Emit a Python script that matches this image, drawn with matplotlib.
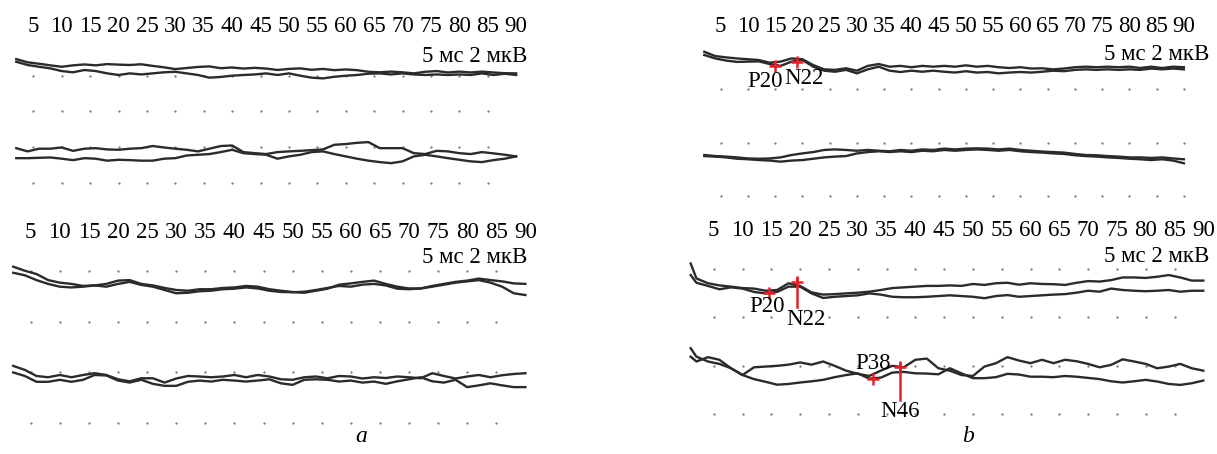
import numpy as np
import matplotlib
matplotlib.use("Agg")
import matplotlib.pyplot as plt

plt.rcParams['font.family'] = ['Liberation Serif', 'DejaVu Serif']

W, H = 1217, 454

# time, ms
t = np.arange(2, 91, 2)
t_b2 = np.r_[1, t]
tick_ms = list(range(5, 91, 5))
scale_label = "5 мс 2 мкВ"

# amplitudes in uV, each channel around its own baseline row
# panel a, upper recording
a1_ch1_1 = [0.93, 0.75, 0.67, 0.58, 0.50, 0.58, 0.63, 0.58, 0.65, 0.62,
            0.60, 0.64, 0.55, 0.47, 0.37, 0.43, 0.49, 0.52, 0.42, 0.46,
            0.40, 0.44, 0.40, 0.32, 0.38, 0.41, 0.33, 0.38, 0.31, 0.35,
            0.31, 0.22, 0.19, 0.23, 0.19, 0.13, 0.22, 0.26, 0.18, 0.23,
            0.18, 0.23, 0.18, 0.14, 0.13]
a1_ch1_2 = [0.78, 0.60, 0.50, 0.41, 0.26, 0.19, 0.32, 0.26, 0.13, 0.04,
            0.13, 0.07, 0.13, 0.19, 0.22, 0.13, 0.04, -0.11, -0.07, 0.00,
            0.04, 0.07, 0.13, 0.04, 0.13, 0.00, -0.11, -0.15, -0.06, 0.00,
            0.04, 0.11, 0.13, 0.07, 0.13, 0.07, 0.04, 0.07, 0.04, 0.07,
            0.04, 0.13, 0.04, 0.11, 0.04]
a1_ch2_1 = [-0.06, -0.24, -0.09, -0.09, -0.02, -0.21, -0.09, -0.06, -0.13, -0.15,
            -0.09, -0.06, 0.06, -0.02, -0.09, -0.15, -0.24, -0.09, 0.06, 0.09,
            -0.28, -0.34, -0.39, -0.28, -0.24, -0.21, -0.17, -0.13, 0.13, 0.17,
            0.24, 0.28, -0.06, -0.06, -0.06, -0.34, -0.39, -0.21, -0.24, -0.34,
            -0.39, -0.28, -0.35, -0.43, -0.52]
a1_ch2_2 = [-0.62, -0.62, -0.60, -0.58, -0.65, -0.73, -0.62, -0.65, -0.76, -0.71,
            -0.73, -0.76, -0.76, -0.65, -0.62, -0.47, -0.43, -0.39, -0.28, -0.15,
            -0.34, -0.39, -0.43, -0.65, -0.52, -0.43, -0.28, -0.24, -0.39, -0.52,
            -0.65, -0.76, -0.84, -0.90, -0.80, -0.52, -0.43, -0.52, -0.62, -0.71,
            -0.80, -0.84, -0.73, -0.65, -0.52]

# panel a, lower recording
a2_ch1_1 = [0.17, 0.01, -0.12, -0.36, -0.46, -0.51, -0.59, -0.57, -0.51, -0.38,
            -0.36, -0.51, -0.57, -0.67, -0.75, -0.78, -0.72, -0.72, -0.67, -0.65,
            -0.59, -0.62, -0.72, -0.78, -0.83, -0.86, -0.78, -0.70, -0.54, -0.49,
            -0.43, -0.38, -0.51, -0.62, -0.69, -0.69, -0.59, -0.51, -0.43, -0.38,
            -0.30, -0.36, -0.41, -0.49, -0.51]
a2_ch1_2 = [-0.07, -0.17, -0.36, -0.51, -0.62, -0.65, -0.62, -0.57, -0.62, -0.51,
            -0.43, -0.55, -0.62, -0.75, -0.88, -0.86, -0.80, -0.78, -0.72, -0.70,
            -0.65, -0.69, -0.78, -0.83, -0.84, -0.82, -0.75, -0.67, -0.59, -0.62,
            -0.54, -0.51, -0.57, -0.70, -0.72, -0.69, -0.62, -0.54, -0.46, -0.41,
            -0.36, -0.46, -0.62, -0.88, -0.95]
a2_ch2_1 = [0.25, 0.09, -0.15, -0.20, -0.11, -0.20, -0.11, -0.04, -0.11, -0.28,
            -0.36, -0.24, -0.24, -0.41, -0.25, -0.15, -0.17, -0.20, -0.17, -0.11,
            -0.20, -0.11, -0.17, -0.28, -0.30, -0.20, -0.17, -0.24, -0.15, -0.17,
            -0.25, -0.20, -0.23, -0.17, -0.20, -0.24, -0.04, -0.15, -0.25, -0.17,
            -0.11, -0.20, -0.12, -0.07, -0.04]
a2_ch2_2 = [-0.01, -0.15, -0.38, -0.38, -0.30, -0.38, -0.30, -0.11, -0.13, -0.33,
            -0.41, -0.30, -0.46, -0.54, -0.54, -0.38, -0.33, -0.37, -0.30, -0.33,
            -0.37, -0.33, -0.28, -0.44, -0.50, -0.30, -0.28, -0.30, -0.37, -0.33,
            -0.41, -0.37, -0.46, -0.36, -0.28, -0.20, -0.36, -0.41, -0.30, -0.59,
            -0.52, -0.44, -0.52, -0.59, -0.59]

# panel b, upper recording
b1_ch1_1 = [1.41, 1.25, 1.20, 1.16, 1.13, 1.10, 1.00, 1.04, 1.16, 1.13,
            0.91, 0.75, 0.73, 0.79, 0.70, 0.88, 0.95, 0.85, 0.88, 0.83,
            0.88, 0.85, 0.88, 0.85, 0.90, 0.85, 0.88, 0.83, 0.80, 0.83,
            0.78, 0.79, 0.75, 0.78, 0.83, 0.85, 0.83, 0.85, 0.83, 0.85,
            0.80, 0.85, 0.80, 0.85, 0.83]
b1_ch1_2 = [1.29, 1.16, 1.08, 1.03, 1.04, 1.05, 0.95, 0.88, 1.04, 1.10,
            0.85, 0.70, 0.66, 0.73, 0.60, 0.75, 0.85, 0.70, 0.65, 0.70,
            0.66, 0.70, 0.66, 0.63, 0.68, 0.63, 0.65, 0.60, 0.63, 0.65,
            0.63, 0.66, 0.70, 0.68, 0.73, 0.75, 0.73, 0.75, 0.73, 0.75,
            0.73, 0.78, 0.75, 0.78, 0.75]
b1_ch2_1 = [1.53, 1.49, 1.47, 1.44, 1.40, 1.39, 1.40, 1.44, 1.53, 1.59,
            1.64, 1.72, 1.74, 1.72, 1.69, 1.72, 1.69, 1.67, 1.72, 1.69,
            1.74, 1.72, 1.77, 1.74, 1.77, 1.78, 1.77, 1.74, 1.77, 1.72,
            1.69, 1.66, 1.64, 1.62, 1.57, 1.53, 1.52, 1.49, 1.47, 1.44,
            1.44, 1.42, 1.44, 1.40, 1.37]
b1_ch2_2 = [1.49, 1.47, 1.44, 1.39, 1.37, 1.34, 1.32, 1.28, 1.32, 1.34,
            1.39, 1.44, 1.47, 1.49, 1.59, 1.64, 1.67, 1.64, 1.67, 1.64,
            1.69, 1.67, 1.72, 1.69, 1.72, 1.74, 1.72, 1.69, 1.72, 1.67,
            1.64, 1.62, 1.59, 1.57, 1.52, 1.49, 1.47, 1.44, 1.42, 1.39,
            1.37, 1.34, 1.37, 1.32, 1.22]

# panel b, lower recording (starts at 1 ms)
b2_ch1_1 = [0.23, -0.39, -0.59, -0.68, -0.73, -0.79, -0.81, -0.90, -0.87, -0.59,
            -0.70, -0.97, -1.06, -1.04, -1.01, -0.98, -0.94, -0.87, -0.79, -0.76,
            -0.73, -0.70, -0.70, -0.68, -0.70, -0.62, -0.66, -0.59, -0.57, -0.65,
            -0.59, -0.62, -0.63, -0.66, -0.57, -0.50, -0.52, -0.46, -0.35, -0.35,
            -0.37, -0.32, -0.25, -0.35, -0.48, -0.48]
b2_ch1_2 = [-0.25, -0.57, -0.70, -0.84, -0.76, -0.81, -0.95, -1.01, -0.95, -0.73,
            -0.73, -1.01, -1.20, -1.15, -1.12, -1.09, -1.01, -1.06, -1.15, -1.17,
            -1.17, -1.15, -1.12, -1.09, -1.12, -1.15, -1.21, -1.12, -1.08, -1.15,
            -1.12, -1.09, -1.06, -1.04, -0.98, -0.90, -0.94, -0.81, -0.87, -0.90,
            -0.92, -0.90, -0.87, -0.94, -0.90, -0.90]
b2_ch2_1 = [0.72, 0.37, 0.17, 0.07, -0.11, -0.39, -0.56, -0.67, -0.79, -0.76,
            -0.70, -0.65, -0.59, -0.48, -0.39, -0.32, -0.54, -0.50, -0.29, -0.26,
            -0.32, -0.33, -0.36, -0.11, -0.32, -0.52, -0.52, -0.48, -0.34, -0.37,
            -0.46, -0.46, -0.48, -0.43, -0.46, -0.51, -0.56, -0.65, -0.70, -0.65,
            -0.59, -0.66, -0.76, -0.80, -0.73, -0.62]
b2_ch2_2 = [0.37, 0.17, 0.35, 0.24, -0.11, -0.39, -0.07, -0.04, -0.01, 0.04,
            0.13, 0.04, 0.17, -0.01, -0.21, -0.34, -0.43, -0.21, -0.01, -0.07,
            0.24, 0.29, -0.11, -0.21, -0.39, -0.43, -0.04, 0.10, 0.35, 0.21,
            0.10, 0.24, 0.10, 0.24, 0.18, 0.07, -0.07, 0.03, 0.26, 0.17,
            0.07, -0.11, -0.04, 0.07, -0.11, -0.21]

# marked peaks: name, channel, latency on the sweep (ms), amplitude (uV)
b1_peaks = [("P20", 1, 14.9, 0.88), ("N22", 1, 19.1, 1.04)]
b2_peaks = [("P20", 1, 14.6, -1.01), ("N22", 1, 19.5, -0.53),
            ("P38", 2, 32.7, -0.56), ("N46", 2, 37.4, -0.07)]

trace_color = '#2b2b2b'
red = '#e3222b'
ch2_offset = -4.0   # second channel sits two grid rows lower


def panel(left, px_ms, row0, px_uv, top, bottom, n_rows, last_dot, scale_base, scale_right):
    ytop = (row0 - top) / px_uv
    ybot = (row0 - bottom) / px_uv
    ax = fig.add_axes([left / W, 1 - bottom / H, 92 * px_ms / W, (bottom - top) / H])
    ax.set_xlim(0, 92)
    ax.set_ylim(ybot, ytop)
    for s in ax.spines.values():
        s.set_visible(False)
    ax.set_yticks([])
    ax.set_xticks(tick_ms, [str(v) for v in tick_ms])
    ax.tick_params(axis='x', top=False, bottom=False, labeltop=True,
                   labelbottom=False, length=0, pad=0, labelsize=16.5)
    ax.patch.set_alpha(0)
    cols = np.arange(5, last_dot + 1, 5)
    for r in range(n_rows):
        ax.plot(cols, np.full(len(cols), -2.0 * r), ls='none', marker='o',
                ms=1.7, mew=0, color='#808080', zorder=1)
    fig.text(scale_right / W, 1 - scale_base / H, scale_label, ha='right',
             va='baseline', fontsize=16.5)
    return ax


def traces(ax, tt, ch1, ch2):
    for v in ch1:
        ax.plot(tt, v, color=trace_color, lw=1.7, zorder=2)
    for v in ch2:
        ax.plot(tt, np.array(v) + ch2_offset, color=trace_color, lw=1.7, zorder=2)


def marks(ax, peaks, labels, long_lines):
    for (name, ch, lat, amp), (dx, dy) in zip(peaks, labels):
        y = amp if ch == 1 else amp + ch2_offset
        ax.plot(lat, y, marker='+', ms=9, mew=1.8, color=red, zorder=4)
        if name in long_lines:
            up, down = long_lines[name]
            ax.plot([lat, lat], [y + up, y - down], color=red, lw=1.8, zorder=4)
        ax.text(lat + dx, y + dy, name, ha='center', va='center', fontsize=16.5, zorder=5)


fig = plt.figure(figsize=(W / 100, H / 100), dpi=100)

ax = panel(4.9, 5.68, 75.7, 17.85, 37.5, 200, 4, 85, 62, 527)
traces(ax, t, [a1_ch1_1, a1_ch1_2], [a1_ch2_1, a1_ch2_2])

ax = panel(1.6, 5.82, 271, 25.3, 242.5, 430, 4, 85, 263, 527)
traces(ax, t, [a2_ch1_1, a2_ch1_2], [a2_ch2_1, a2_ch2_2])

ax = panel(693.4, 5.45, 89.3, 26.6, 36.5, 205, 3, 90, 60, 1209)
traces(ax, t, [b1_ch1_1, b1_ch1_2], [b1_ch2_1, b1_ch2_2])
marks(ax, b1_peaks, [(-1.8, -0.57), (1.2, -0.62)], {})

ax = panel(684.9, 5.76, 269, 24.15, 241.5, 425, 4, 85, 262, 1209)
traces(ax, t_b2, [b2_ch1_1, b2_ch1_2], [b2_ch2_1, b2_ch2_2])
marks(ax, b2_peaks, [(-0.4, -0.55), (1.6, -1.55), (0.0, 0.66), (0.0, -1.83)],
      {"N22": (0.16, 1.03), "N46": (0.19, 1.35)})

fig.text(361 / W, 1 - 437 / H, 'a', style='italic', fontsize=17, ha='center', va='center')
fig.text(968 / W, 1 - 437 / H, 'b', style='italic', fontsize=17, ha='center', va='center')

fig.savefig('out.png', dpi=100)
